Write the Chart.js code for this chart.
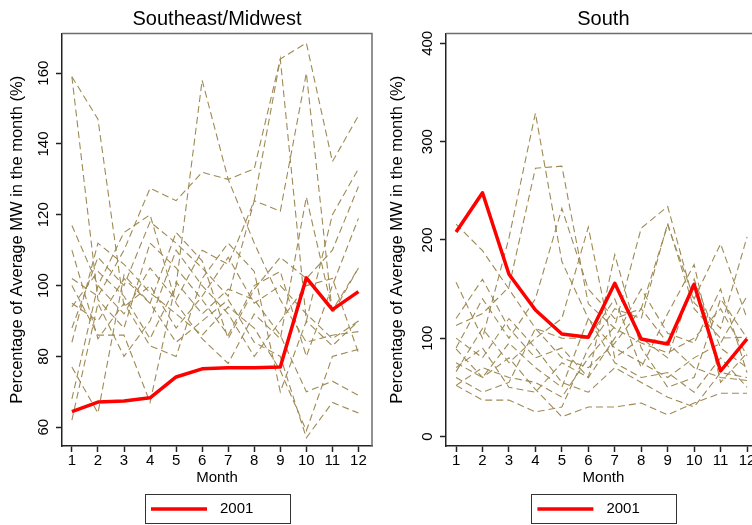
<!DOCTYPE html>
<html>
<head>
<meta charset="utf-8">
<script src="https://cdn.jsdelivr.net/npm/chart.js@4.4.1/dist/chart.umd.min.js"></script>
<style>
  html, body { margin: 0; padding: 0; background: #fff; overflow: hidden; width: 752px; height: 525px; }
  canvas { position: absolute; top: 0; }
  #se { left: 0; }
  #so { left: 380px; }
</style>
</head>
<body>
<canvas id="se" width="380" height="525"></canvas>
<canvas id="so" width="400" height="525"></canvas>
<script>
// Monthly output as a share of the year's average MW, by region
const months = [1, 2, 3, 4, 5, 6, 7, 8, 9, 10, 11, 12];
const xTicks = [1, 2, 3, 4, 5, 6, 7, 8, 9, 10, 11, 12];
const yTicksSE = [60, 80, 100, 120, 140, 160];
const yTicksS = [0, 100, 200, 300, 400];

// Southeast/Midwest: the 2001 profile and earlier years
const se2001 = [64.4, 67.1, 67.4, 68.3, 74.2, 76.5, 76.8, 76.8, 77.0, 102.2, 93.2, 98.3];
const seYearA = [159, 147, 94, 100, 88, 97, 108, 95, 100, 92, 85, 90];
const seYearB = [159, 96, 88, 112, 105, 96, 86, 100, 104, 80, 100, 119];
const seYearC = [94, 104, 97, 85, 100, 158, 130, 112, 96, 84, 86, 87];
const seYearD = [102, 97, 110, 127.5, 124, 132, 130, 133, 164, 168.5, 135, 148];
const seYearE = [88, 108, 100, 118, 112, 105, 97, 124, 121, 160, 92, 105];
const seYearF = [117, 100, 92, 105, 96, 110, 106, 124, 164, 90, 120, 133];
const seYearG = [95, 90, 102, 95, 84, 90, 96, 84, 80, 57, 67, 64];
const seYearH = [84, 112, 106, 98, 92, 86, 94, 88, 76, 59, 80, 82];
const seYearI = [77, 64, 103, 95, 115, 107, 85, 99, 108, 102, 110, 128];
const seYearJ = [100, 86, 86, 67, 101, 92, 99, 96, 86, 70, 73, 69];
const seYearK = [62, 95, 80, 90, 110, 100, 92, 80, 90, 100, 102, 81];
const seYearL = [68, 100, 115, 120, 95, 85, 78, 92, 85, 125, 93, 105];
const seYearM = [110, 85, 95, 83, 80, 102, 112, 104, 70, 90, 83, 90];

// South: the 2001 profile and earlier years
const s2001 = [208, 248, 165, 128.7, 104.3, 101, 155.8, 99.2, 94.1, 154.8, 66.6, 99.2];
const sYearA = [216, 189, 150, 110, 80, 70, 95, 130, 95, 70, 60, 57];
const sYearB = [157, 100, 202, 329, 178, 120, 90, 75, 60, 80, 95, 143];
const sYearC = [113, 125, 152, 273, 275, 135, 110, 95, 85, 100, 130, 82];
const sYearD = [90, 140, 100, 140, 232, 150, 120, 130, 215, 140, 196, 120];
const sYearE = [66, 110, 75, 100, 120, 213, 80, 100, 80, 160, 90, 70];
const sYearF = [52, 70, 60, 55, 40, 80, 112, 212, 234, 136, 110, 203];
const sYearG = [89, 60, 80, 48, 20, 30, 30, 34, 22, 34, 44, 44];
const sYearH = [52, 37, 37, 25, 30, 90, 130, 120, 217, 130, 100, 101];
const sYearI = [70, 90, 50, 45, 75, 60, 185, 90, 50, 60, 140, 100];
const sYearJ = [100, 80, 120, 90, 55, 45, 70, 55, 40, 30, 65, 60];
const sYearK = [60, 45, 55, 110, 100, 100, 140, 70, 125, 175, 55, 85];
const sYearL = [75, 60, 95, 70, 50, 120, 75, 60, 65, 45, 80, 50];
const sYearM = [120, 160, 110, 80, 90, 60, 100, 150, 105, 95, 150, 65];

const seHistory = [seYearA, seYearB, seYearC, seYearD, seYearE, seYearF, seYearG,
                   seYearH, seYearI, seYearJ, seYearK, seYearL, seYearM];
const sHistory = [sYearA, sYearB, sYearC, sYearD, sYearE, sYearF, sYearG,
                  sYearH, sYearI, sYearJ, sYearK, sYearL, sYearM];

const FONT = "'Liberation Sans', Arial, Helvetica, sans-serif";
const TAN = 'rgb(158,138,84)';
const RED = '#ff0000';
const AXIS = '#222222';
const Y_TITLE = 'Percentage of Average MW in the month (%)';

Chart.defaults.font.family = FONT;
Chart.defaults.color = '#000';

function points(vals) {
  return months.map((m, i) => ({ x: m, y: vals[i] }));
}

function buildDatasets(current, history) {
  // first dataset is painted last, so the 2001 line sits on top
  const sets = [{
    label: '2001',
    data: points(current),
    borderColor: RED,
    borderWidth: 3.5,
    pointRadius: 0,
    tension: 0,
    borderJoinStyle: 'round'
  }];
  history.forEach(vals => sets.push({
    label: '',
    data: points(vals),
    borderColor: TAN,
    borderWidth: 1.1,
    borderDash: [7, 4],
    pointRadius: 0,
    tension: 0
  }));
  return sets;
}

// top and right edges of the plot region
const plotFrame = {
  id: 'plotFrame',
  afterDatasetsDraw(chart) {
    const { ctx, chartArea: a } = chart;
    ctx.save();
    ctx.strokeStyle = '#6e6e6e';
    ctx.lineWidth = 1.5;
    ctx.beginPath();
    ctx.moveTo(a.left, a.top);
    ctx.lineTo(a.right, a.top);
    ctx.lineTo(a.right, a.bottom);
    ctx.stroke();
    ctx.restore();
  }
};

// boxed key under the plot for the highlighted year
const boxedKey = {
  id: 'boxedKey',
  afterDraw(chart) {
    const { ctx, chartArea: a } = chart;
    const ds = chart.data.datasets.find(d => d.label === '2001');
    const cx = (a.left + a.right) / 2;
    const cy = chart.height - 16;
    ctx.save();
    ctx.strokeStyle = '#333';
    ctx.lineWidth = 1;
    ctx.strokeRect(Math.round(cx - 72.5) + 0.5, cy - 14.5, 145, 29);
    ctx.strokeStyle = ds.borderColor;
    ctx.lineWidth = ds.borderWidth;
    ctx.beginPath();
    ctx.moveTo(cx - 66, cy);
    ctx.lineTo(cx - 10, cy);
    ctx.stroke();
    ctx.fillStyle = '#000';
    ctx.font = '15px ' + FONT;
    ctx.textAlign = 'left';
    ctx.textBaseline = 'middle';
    ctx.fillText(ds.label, cx + 3, cy);
    ctx.restore();
  }
};

function makeChart(id, title, current, history, yMin, yMax, yTicks, yWidth, padRight) {
  return new Chart(document.getElementById(id), {
    type: 'line',
    data: { datasets: buildDatasets(current, history) },
    plugins: [plotFrame, boxedKey],
    options: {
      responsive: false,
      animation: false,
      devicePixelRatio: 1,
      layout: { padding: { left: 0, right: padRight, top: 0, bottom: 34 } },
      plugins: {
        legend: { display: false },
        tooltip: { enabled: false },
        title: {
          display: true,
          text: title,
          fullSize: false,
          color: '#000',
          font: { size: 20, weight: 'normal', family: FONT },
          padding: { top: 7, bottom: 2.5 }
        }
      },
      scales: {
        x: {
          type: 'linear',
          min: 0.62,
          max: 12.52,
          afterBuildTicks: s => { s.ticks = xTicks.map(v => ({ value: v })); },
          afterFit: s => { s.height = 45; },
          grid: { drawOnChartArea: false, drawTicks: true, tickLength: 6, tickColor: AXIS, tickWidth: 1.5 },
          border: { display: true, color: AXIS, width: 1.5 },
          ticks: { autoSkip: false, maxRotation: 0, padding: 0, color: '#000', font: { size: 15 } },
          title: { display: true, text: 'Month', color: '#000', font: { size: 15 }, padding: { top: 0, bottom: 4.5 } }
        },
        y: {
          type: 'linear',
          min: yMin,
          max: yMax,
          afterBuildTicks: s => { s.ticks = yTicks.map(v => ({ value: v })); },
          afterFit: s => { s.width = yWidth; },
          grid: { drawOnChartArea: false, drawTicks: true, tickLength: 6, tickColor: AXIS, tickWidth: 1.5 },
          border: { display: true, color: AXIS, width: 1.5 },
          ticks: { minRotation: 90, maxRotation: 90, crossAlign: 'center', padding: 0, color: '#000', font: { size: 15 } },
          title: { display: true, text: Y_TITLE, color: '#000', font: { size: 16.5 }, padding: { top: 8, bottom: 0 } }
        }
      }
    }
  });
}

makeChart('se', 'Southeast/Midwest', se2001, seHistory, 54.7, 171.2, yTicksSE, 62, 8);
makeChart('so', 'South', s2001, sHistory, -9.7, 410, yTicksS, 66, 19.2);
</script>
</body>
</html>
